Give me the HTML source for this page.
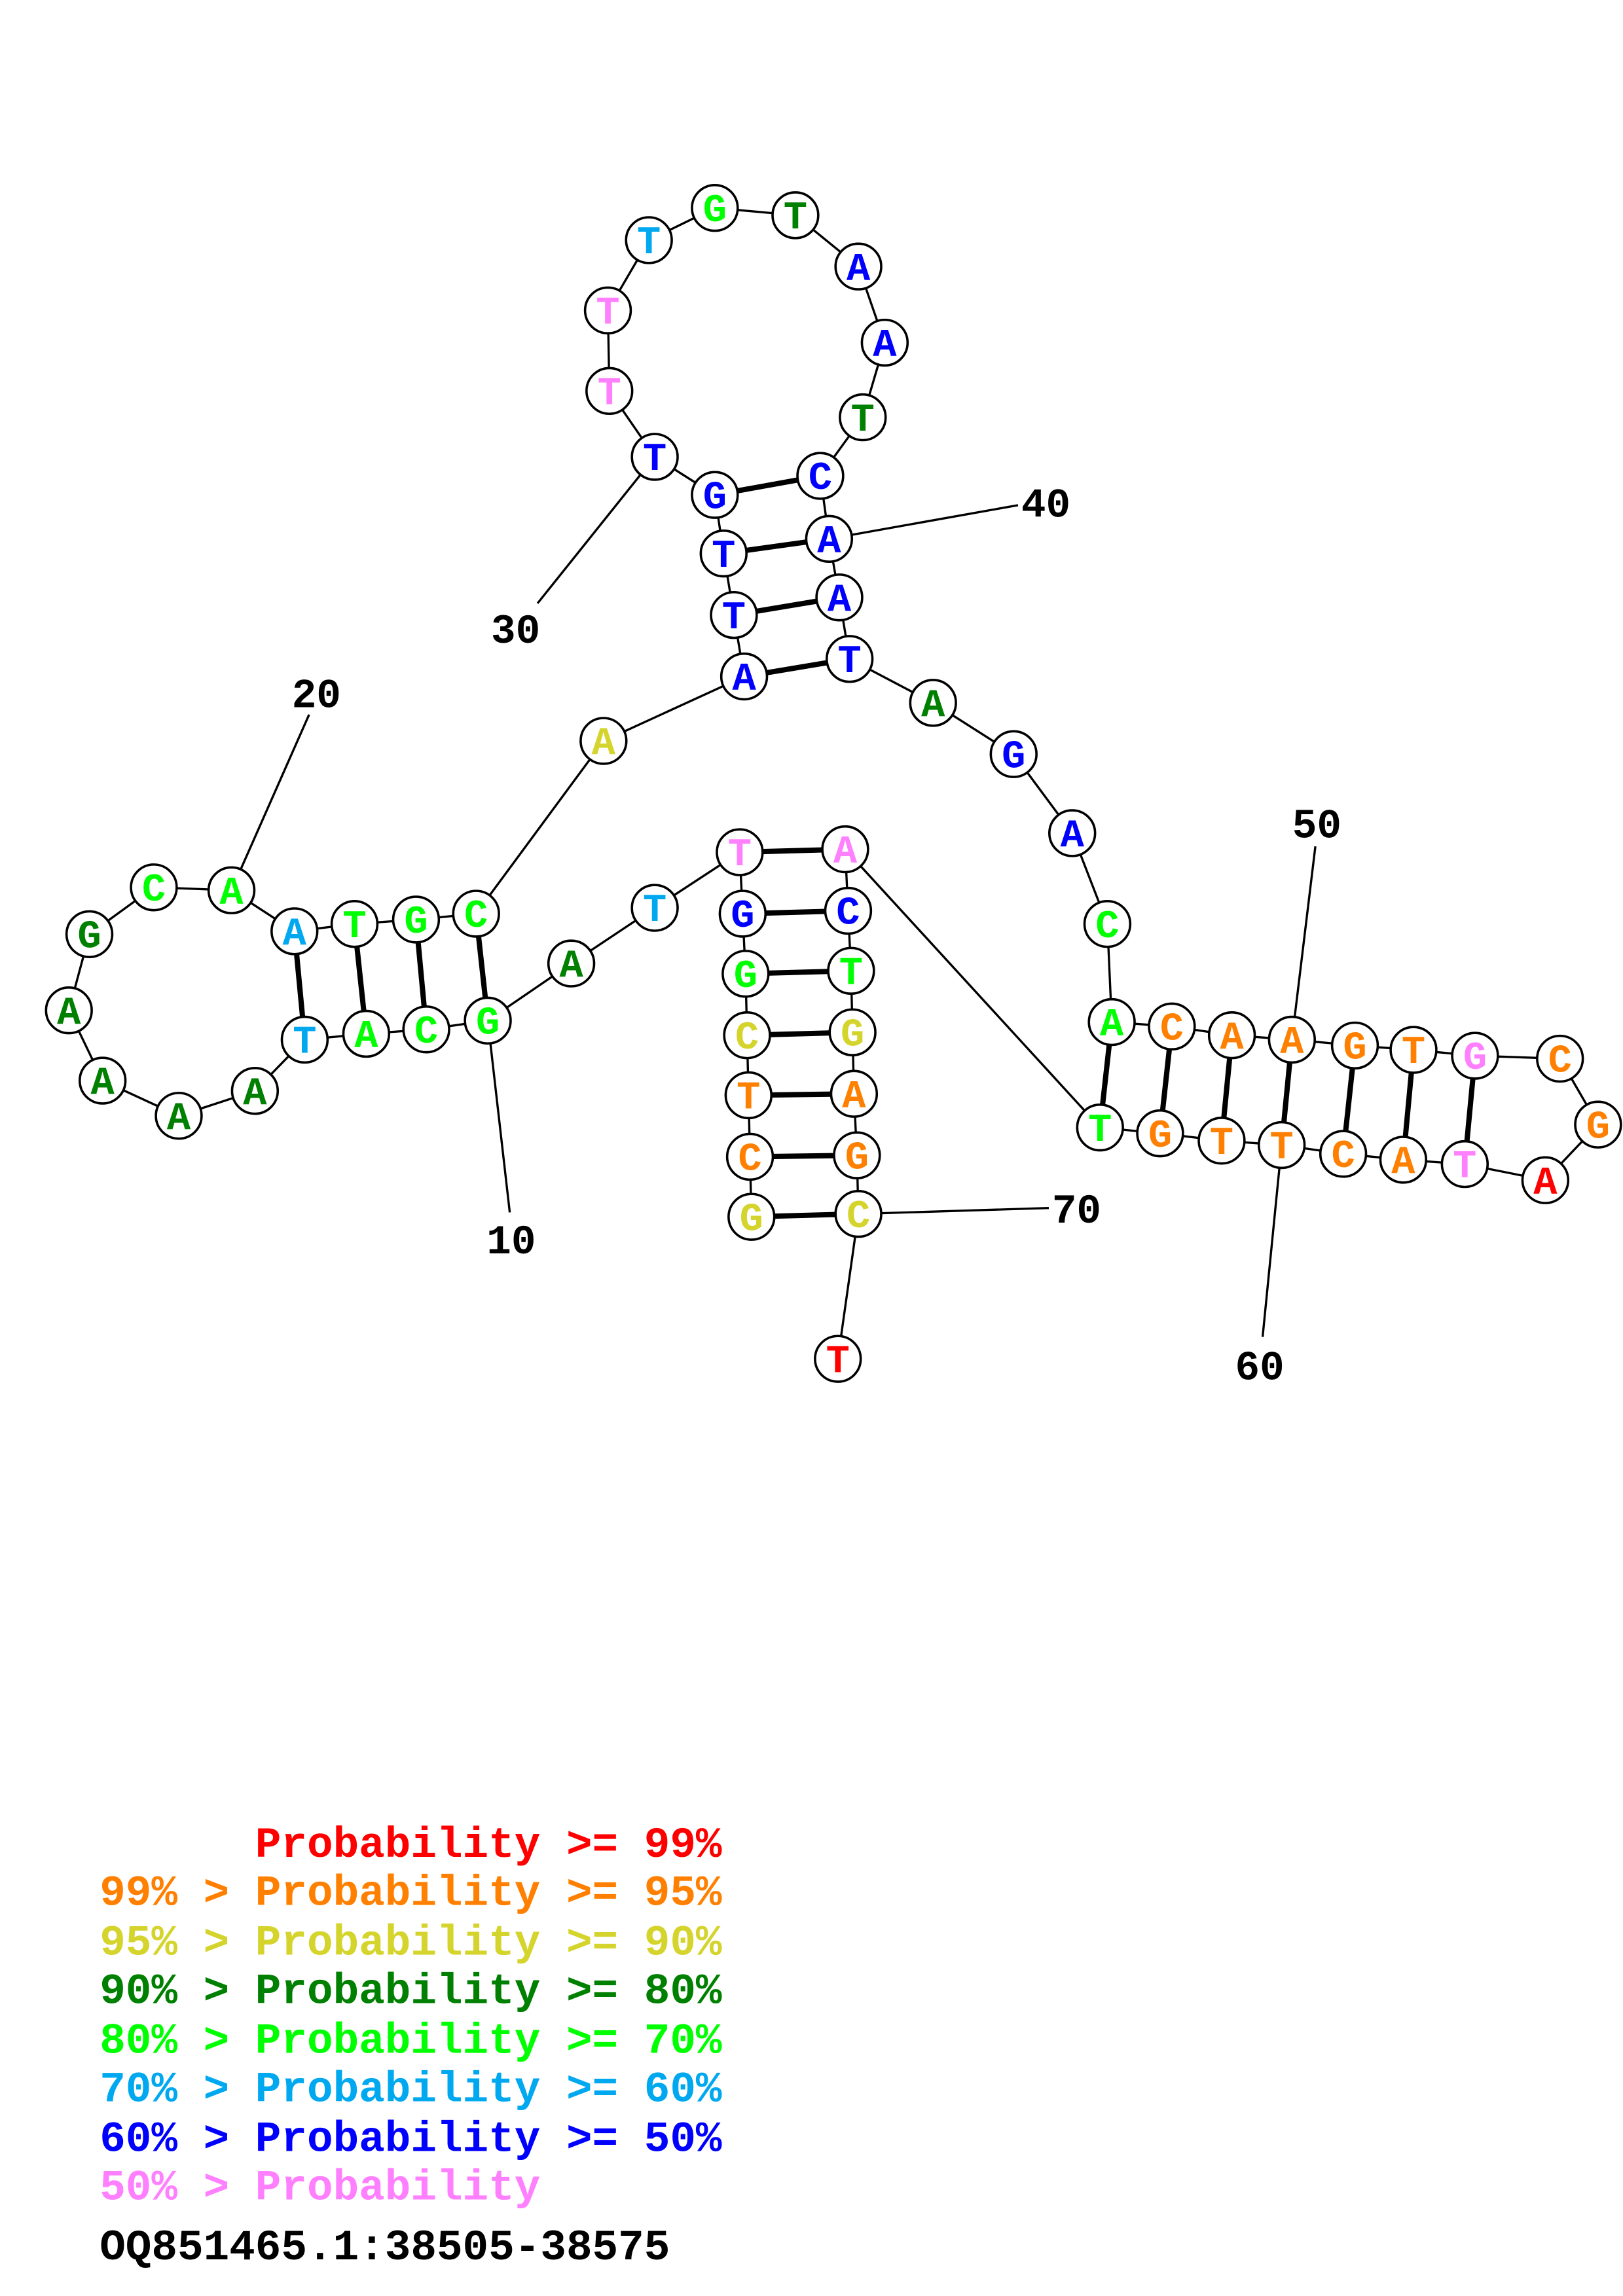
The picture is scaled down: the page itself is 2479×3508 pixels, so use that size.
<!DOCTYPE html>
<html><head><meta charset="utf-8"><style>
html,body{margin:0;padding:0;background:#fff;}
svg{display:block}
.n text{font-family:"Liberation Mono",monospace;font-weight:bold;font-size:27px;text-anchor:middle}
.l{font-family:"Liberation Mono",monospace;font-weight:bold;font-size:28px;fill:#000;text-anchor:middle}
.g{font-family:"Liberation Mono",monospace;font-weight:bold;font-size:29.5px;white-space:pre}
</style></head><body>
<svg width="2479" height="3508" viewBox="0 0 1108 1568" xmlns="http://www.w3.org/2000/svg">
<g stroke="#000" stroke-width="1.5" fill="none">
<polyline points="513,831 512,790 511,748 510,707 509,665 507,624 505,582 447,620 390,658 333,697 291,703 250,706 208,710 174,745 122,762 70,738 47,690 61,638 105,606 158,608 201,636 242,631 284,628 325,624 412,506 508,462 501,420 494,378 488,338 447,312 416,267 415,212 443,164 488,142 543,147 586,182 604,234 589,285 560,325 566,368 573,408 580,450 637,480 692,515 732,569 756,631 759,698 800,701 841,707 882,710 925,714 965,717 1007,721 1065,723 1091,768 1055,806 1000,795 958,792 917,788 875,782 834,779 792,774 751,770 577,580 579,622 581,663 582,705 583,747 585,789 586,829 572,928"/>
<line x1="333" y1="697" x2="348" y2="828"/>
<line x1="158" y1="608" x2="211" y2="488"/>
<line x1="447" y1="312" x2="367" y2="412"/>
<line x1="566" y1="368" x2="695" y2="345"/>
<line x1="882" y1="710" x2="898" y2="578"/>
<line x1="875" y1="782" x2="862" y2="913"/>
<line x1="586" y1="829" x2="716" y2="825"/>
</g>
<g stroke="#000" stroke-width="3.6">
<line x1="513" y1="831" x2="586" y2="829"/><line x1="512" y1="790" x2="585" y2="789"/><line x1="511" y1="748" x2="583" y2="747"/><line x1="510" y1="707" x2="582" y2="705"/><line x1="509" y1="665" x2="581" y2="663"/><line x1="507" y1="624" x2="579" y2="622"/><line x1="505" y1="582" x2="577" y2="580"/>
<line x1="333" y1="697" x2="325" y2="624"/><line x1="291" y1="703" x2="284" y2="628"/><line x1="250" y1="706" x2="242" y2="631"/><line x1="208" y1="710" x2="201" y2="636"/>
<line x1="508" y1="462" x2="580" y2="450"/><line x1="501" y1="420" x2="573" y2="408"/><line x1="494" y1="378" x2="566" y2="368"/><line x1="488" y1="338" x2="560" y2="325"/>
<line x1="759" y1="698" x2="751" y2="770"/><line x1="800" y1="701" x2="792" y2="774"/><line x1="841" y1="707" x2="834" y2="779"/><line x1="882" y1="710" x2="875" y2="782"/><line x1="925" y1="714" x2="917" y2="788"/><line x1="965" y1="717" x2="958" y2="792"/><line x1="1007" y1="721" x2="1000" y2="795"/>
</g>
<g class="n" stroke-width="1.6">
<g fill="#fff" stroke="#000">
<circle cx="513" cy="831" r="15.6"/><circle cx="512" cy="790" r="15.6"/><circle cx="511" cy="748" r="15.6"/><circle cx="510" cy="707" r="15.6"/><circle cx="509" cy="665" r="15.6"/><circle cx="507" cy="624" r="15.6"/><circle cx="505" cy="582" r="15.6"/><circle cx="447" cy="620" r="15.6"/><circle cx="390" cy="658" r="15.6"/><circle cx="333" cy="697" r="15.6"/><circle cx="291" cy="703" r="15.6"/><circle cx="250" cy="706" r="15.6"/><circle cx="208" cy="710" r="15.6"/><circle cx="174" cy="745" r="15.6"/><circle cx="122" cy="762" r="15.6"/><circle cx="70" cy="738" r="15.6"/><circle cx="47" cy="690" r="15.6"/><circle cx="61" cy="638" r="15.6"/><circle cx="105" cy="606" r="15.6"/><circle cx="158" cy="608" r="15.6"/><circle cx="201" cy="636" r="15.6"/><circle cx="242" cy="631" r="15.6"/><circle cx="284" cy="628" r="15.6"/><circle cx="325" cy="624" r="15.6"/><circle cx="412" cy="506" r="15.6"/><circle cx="508" cy="462" r="15.6"/><circle cx="501" cy="420" r="15.6"/><circle cx="494" cy="378" r="15.6"/><circle cx="488" cy="338" r="15.6"/><circle cx="447" cy="312" r="15.6"/><circle cx="416" cy="267" r="15.6"/><circle cx="415" cy="212" r="15.6"/><circle cx="443" cy="164" r="15.6"/><circle cx="488" cy="142" r="15.6"/><circle cx="543" cy="147" r="15.6"/><circle cx="586" cy="182" r="15.6"/><circle cx="604" cy="234" r="15.6"/><circle cx="589" cy="285" r="15.6"/><circle cx="560" cy="325" r="15.6"/><circle cx="566" cy="368" r="15.6"/><circle cx="573" cy="408" r="15.6"/><circle cx="580" cy="450" r="15.6"/><circle cx="637" cy="480" r="15.6"/><circle cx="692" cy="515" r="15.6"/><circle cx="732" cy="569" r="15.6"/><circle cx="756" cy="631" r="15.6"/><circle cx="759" cy="698" r="15.6"/><circle cx="800" cy="701" r="15.6"/><circle cx="841" cy="707" r="15.6"/><circle cx="882" cy="710" r="15.6"/><circle cx="925" cy="714" r="15.6"/><circle cx="965" cy="717" r="15.6"/><circle cx="1007" cy="721" r="15.6"/><circle cx="1065" cy="723" r="15.6"/><circle cx="1091" cy="768" r="15.6"/><circle cx="1055" cy="806" r="15.6"/><circle cx="1000" cy="795" r="15.6"/><circle cx="958" cy="792" r="15.6"/><circle cx="917" cy="788" r="15.6"/><circle cx="875" cy="782" r="15.6"/><circle cx="834" cy="779" r="15.6"/><circle cx="792" cy="774" r="15.6"/><circle cx="751" cy="770" r="15.6"/><circle cx="577" cy="580" r="15.6"/><circle cx="579" cy="622" r="15.6"/><circle cx="581" cy="663" r="15.6"/><circle cx="582" cy="705" r="15.6"/><circle cx="583" cy="747" r="15.6"/><circle cx="585" cy="789" r="15.6"/><circle cx="586" cy="829" r="15.6"/><circle cx="572" cy="928" r="15.6"/>
</g>
<text x="513" y="840" fill="#d4d42c">G</text>
<text x="512" y="799" fill="#ff8000">C</text>
<text x="511" y="757" fill="#ff8000">T</text>
<text x="510" y="716" fill="#d4d42c">C</text>
<text x="509" y="674" fill="#00ff00">G</text>
<text x="507" y="633" fill="#0000ff">G</text>
<text x="505" y="591" fill="#ff80ff">T</text>
<text x="447" y="629" fill="#00a8f0">T</text>
<text x="390" y="667" fill="#008000">A</text>
<text x="333" y="706" fill="#00ff00">G</text>
<text x="291" y="712" fill="#00ff00">C</text>
<text x="250" y="715" fill="#00ff00">A</text>
<text x="208" y="719" fill="#00a8f0">T</text>
<text x="174" y="754" fill="#008000">A</text>
<text x="122" y="771" fill="#008000">A</text>
<text x="70" y="747" fill="#008000">A</text>
<text x="47" y="699" fill="#008000">A</text>
<text x="61" y="647" fill="#008000">G</text>
<text x="105" y="615" fill="#00ff00">C</text>
<text x="158" y="617" fill="#00ff00">A</text>
<text x="201" y="645" fill="#00a8f0">A</text>
<text x="242" y="640" fill="#00ff00">T</text>
<text x="284" y="637" fill="#00ff00">G</text>
<text x="325" y="633" fill="#00ff00">C</text>
<text x="412" y="515" fill="#d4d42c">A</text>
<text x="508" y="471" fill="#0000ff">A</text>
<text x="501" y="429" fill="#0000ff">T</text>
<text x="494" y="387" fill="#0000ff">T</text>
<text x="488" y="347" fill="#0000ff">G</text>
<text x="447" y="321" fill="#0000ff">T</text>
<text x="416" y="276" fill="#ff80ff">T</text>
<text x="415" y="221" fill="#ff80ff">T</text>
<text x="443" y="173" fill="#00a8f0">T</text>
<text x="488" y="151" fill="#00ff00">G</text>
<text x="543" y="156" fill="#008000">T</text>
<text x="586" y="191" fill="#0000ff">A</text>
<text x="604" y="243" fill="#0000ff">A</text>
<text x="589" y="294" fill="#008000">T</text>
<text x="560" y="334" fill="#0000ff">C</text>
<text x="566" y="377" fill="#0000ff">A</text>
<text x="573" y="417" fill="#0000ff">A</text>
<text x="580" y="459" fill="#0000ff">T</text>
<text x="637" y="489" fill="#008000">A</text>
<text x="692" y="524" fill="#0000ff">G</text>
<text x="732" y="578" fill="#0000ff">A</text>
<text x="756" y="640" fill="#00ff00">C</text>
<text x="759" y="707" fill="#00ff00">A</text>
<text x="800" y="710" fill="#ff8000">C</text>
<text x="841" y="716" fill="#ff8000">A</text>
<text x="882" y="719" fill="#ff8000">A</text>
<text x="925" y="723" fill="#ff8000">G</text>
<text x="965" y="726" fill="#ff8000">T</text>
<text x="1007" y="730" fill="#ff80ff">G</text>
<text x="1065" y="732" fill="#ff8000">C</text>
<text x="1091" y="777" fill="#ff8000">G</text>
<text x="1055" y="815" fill="#ff0000">A</text>
<text x="1000" y="804" fill="#ff80ff">T</text>
<text x="958" y="801" fill="#ff8000">A</text>
<text x="917" y="797" fill="#ff8000">C</text>
<text x="875" y="791" fill="#ff8000">T</text>
<text x="834" y="788" fill="#ff8000">T</text>
<text x="792" y="783" fill="#ff8000">G</text>
<text x="751" y="779" fill="#00ff00">T</text>
<text x="577" y="589" fill="#ff80ff">A</text>
<text x="579" y="631" fill="#0000ff">C</text>
<text x="581" y="672" fill="#00ff00">T</text>
<text x="582" y="714" fill="#d4d42c">G</text>
<text x="583" y="756" fill="#ff8000">A</text>
<text x="585" y="798" fill="#ff8000">G</text>
<text x="586" y="838" fill="#d4d42c">C</text>
<text x="572" y="937" fill="#ff0000">T</text>
</g>
<text class="l" x="349" y="856">10</text>
<text class="l" x="216" y="483">20</text>
<text class="l" x="352" y="439">30</text>
<text class="l" x="714" y="353">40</text>
<text class="l" x="899" y="572">50</text>
<text class="l" x="860" y="942">60</text>
<text class="l" x="735" y="835">70</text>
<text class="g" x="68" y="1268" fill="#ff0000">      Probability &gt;= 99%</text>
<text class="g" x="68" y="1301" fill="#ff8000">99% &gt; Probability &gt;= 95%</text>
<text class="g" x="68" y="1335" fill="#d4d42c">95% &gt; Probability &gt;= 90%</text>
<text class="g" x="68" y="1368" fill="#008000">90% &gt; Probability &gt;= 80%</text>
<text class="g" x="68" y="1402" fill="#00ff00">80% &gt; Probability &gt;= 70%</text>
<text class="g" x="68" y="1435" fill="#00a8f0">70% &gt; Probability &gt;= 60%</text>
<text class="g" x="68" y="1469" fill="#0000ff">60% &gt; Probability &gt;= 50%</text>
<text class="g" x="68" y="1502" fill="#ff80ff">50% &gt; Probability</text>
<text class="g" x="68" y="1543" fill="#000">OQ851465.1:38505-38575</text>
</svg>
</body></html>
